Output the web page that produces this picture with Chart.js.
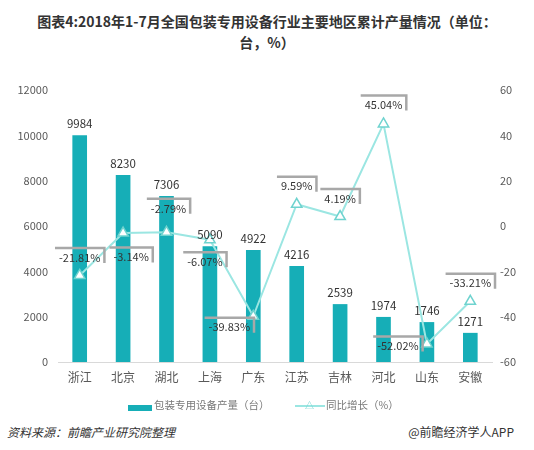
<!DOCTYPE html>
<html>
<head>
<meta charset="utf-8">
<script src="https://cdn.jsdelivr.net/npm/chart.js@4/dist/chart.umd.min.js"></script>
<style>
  body { margin:0; background:#fff; font-family:'Noto Sans CJK SC', sans-serif; }
  .wrap { position:relative; width:534px; height:450px; overflow:hidden; }
  .title { position:absolute; top:11px; left:0; width:534px; text-align:center;
           font-size:14px; font-weight:bold; color:#333; line-height:21px; }
  .chartBox { position:absolute; top:60px; left:0; width:534px; height:340px; }
  .legend { position:absolute; top:397px; left:0; width:534px; font-size:10.5px; color:#777; }
  .legend span { position:absolute; top:0; white-space:nowrap; }
  .swBar { position:absolute; left:128px; top:405px; width:24px; height:6px; background:#16aeb7; }
  .swLine { position:absolute; left:295px; top:405px; width:30px; height:2px; background:#9be6e2; }
  .src { position:absolute; top:423px; font-size:12px; color:#333; }
</style>
</head>
<body>
<div class="wrap">
  <div class="title">图表4:2018年1-7月全国包装专用设备行业主要地区累计产量情况（单位：<br>台，%）</div>
  <div class="chartBox"><canvas id="chart"></canvas></div>
  <div class="swBar"></div>
  <div class="swLine"></div>
  <div class="legend">
    <span style="left:154px">包装专用设备产量（台）</span>
    <span style="left:305px;top:2px;color:#6fd3cf;font-size:9px">△</span>
    <span style="left:326px">同比增长（%）</span>
  </div>
  <div class="src" style="left:7px;font-style:italic">资料来源：前瞻产业研究院整理</div>
  <div class="src" style="right:20px">@前瞻经济学人APP</div>
</div>
<script>
const regions = ['浙江','北京','湖北','上海','广东','江苏','吉林','河北','山东','安徽']
const output = [9984, 8230, 7306, 5090, 4922, 4216, 2539, 1974, 1746, 1271]
const growth = [-21.81, -3.14, -2.79, -6.07, -39.83, 9.59, 4.19, 45.04, -52.02, -33.21]
const outputTicks = [0, 2000, 4000, 6000, 8000, 10000, 12000]
const growthTicks = [-60, -40, -20, 0, 20, 40, 60]

// where each growth label box sits relative to its point
const growthLabelOffset = [[0,-19],[8,23],[2,-25],[-5,21],[-24,10],[0,-19],[0,-19],[0,-20],[-29,1],[0,-19]]

const labelPlugin = {
    id:'labels',
    afterDatasetsDraw(chart){
        const ctx = chart.ctx
        ctx.save()
        ctx.textAlign = 'center'
        ctx.textBaseline = 'middle'
        ctx.font = '11.5px "Noto Sans CJK SC", sans-serif'
        chart.getDatasetMeta(0).data.forEach((bar,i)=>{
            ctx.fillStyle = '#333'
            ctx.fillText(output[i], bar.x, bar.y - 12)
        })
        ctx.font = '11px "Noto Sans CJK SC", sans-serif'
        chart.getDatasetMeta(1).data.forEach((pt,i)=>{
            const text = growth[i].toFixed(2) + '%'
            const cx = pt.x + growthLabelOffset[i][0]
            const cy = pt.y + growthLabelOffset[i][1]
            const w = ctx.measureText(text).width + 8
            const h = 17
            ctx.strokeStyle = '#a8a8a8'
            ctx.lineWidth = 2.5
            ctx.beginPath()
            ctx.moveTo(cx - w/2, cy - h/2)
            ctx.lineTo(cx + w/2, cy - h/2)
            ctx.lineTo(cx + w/2, cy + h/2 - 2)
            ctx.stroke()
            ctx.fillStyle = '#333'
            ctx.fillText(text, cx, cy + 1)
        })
        ctx.restore()
    }
}

const tickFont = {family:'"Noto Sans CJK SC", sans-serif', size:11}

new Chart(document.getElementById('chart'), {
    data:{
        labels: regions,
        datasets:[{
            type:'bar',
            label:'包装专用设备产量（台）',
            data: output,
            backgroundColor:'#16aeb7',
            barThickness:14,
            yAxisID:'y',
            order:2
        },{
            type:'line',
            label:'同比增长（%）',
            data: growth,
            borderColor:'#9be6e2',
            borderWidth:2,
            pointStyle:'triangle',
            pointRadius:6,
            pointBackgroundColor:'#fff',
            pointBorderColor:'#6fd3cf',
            pointBorderWidth:1.5,
            yAxisID:'y1',
            order:1
        }]
    },
    options:{
        responsive:true,
        maintainAspectRatio:false,
        animation:false,
        layout:{padding:{top:30, left:0, right:0, bottom:0}},
        plugins:{legend:{display:false}, tooltip:{enabled:false}},
        scales:{
            x:{
                grid:{display:false, drawTicks:false},
                border:{color:'#d9d9d9'},
                ticks:{color:'#595959', font:{family:tickFont.family, size:12}, padding:8},
                afterFit(scale){ scale.height = 38 }
            },
            y:{
                position:'left',
                min:outputTicks[0], max:outputTicks[outputTicks.length-1],
                afterBuildTicks(scale){ scale.ticks = outputTicks.map(v=>({value:v})) },
                grid:{display:false, drawTicks:false},
                border:{display:false},
                ticks:{color:'#595959', font:tickFont, padding:10, callback:v=>String(v)},
                afterFit(scale){ scale.width = 58 }
            },
            y1:{
                position:'right',
                min:growthTicks[0], max:growthTicks[growthTicks.length-1],
                afterBuildTicks(scale){ scale.ticks = growthTicks.map(v=>({value:v})) },
                grid:{display:false, drawTicks:false},
                border:{display:false},
                ticks:{color:'#595959', font:tickFont, padding:8, callback:v=>String(v)},
                afterFit(scale){ scale.width = 42 }
            }
        }
    },
    plugins:[labelPlugin]
})
</script>
</body>
</html>
